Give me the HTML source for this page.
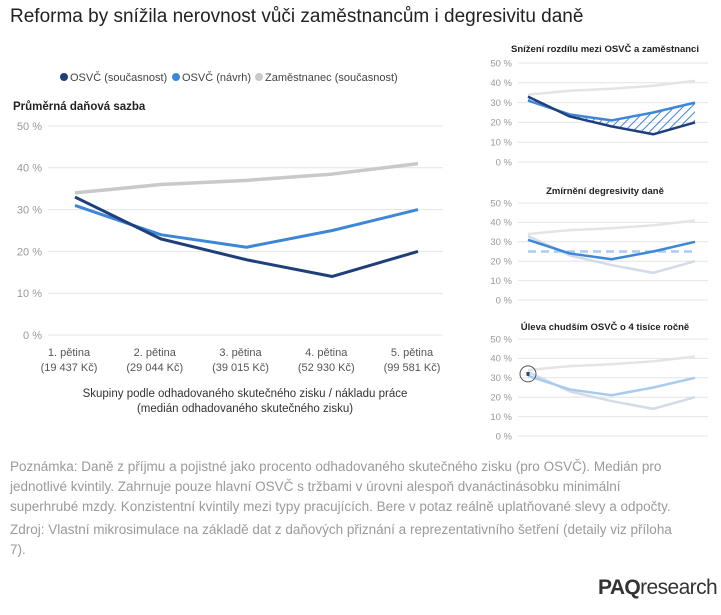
<!DOCTYPE html>
<html><head><meta charset="utf-8">
<style>
body{margin:0;width:721px;height:615px;background:#fff;font-family:"Liberation Sans",sans-serif;overflow:hidden;position:relative}
.t{position:absolute;white-space:nowrap}
</style></head><body>
<div class="t" style="left:10px;top:6px;font-size:19px;color:#222;">Reforma by snížila nerovnost vůči zaměstnancům i degresivitu daně</div>
<svg id="c" width="721" height="615" style="position:absolute;left:0;top:0"></svg>
<div class="t" style="left:10px;top:457px;font-size:13.5px;line-height:20px;color:#9a9a9a;white-space:normal;width:680px">Poznámka: Daně z příjmu a pojistné jako procento odhadovaného skutečného zisku (pro OSVČ). Medián pro jednotlivé kvintily. Zahrnuje pouze hlavní OSVČ s tržbami v úrovni alespoň dvanáctinásobku minimální superhrubé mzdy. Konzistentní kvintily mezi typy pracujících. Bere v potaz reálně uplatňované slevy a odpočty.</div>
<div class="t" style="left:10px;top:520px;font-size:13.5px;line-height:20px;color:#9a9a9a;white-space:normal;width:670px">Zdroj: Vlastní mikrosimulace na základě dat z daňových přiznání a reprezentativního šetření (detaily viz příloha 7).</div>
<div class="t" style="left:598px;top:576px;font-size:21px;color:#333;letter-spacing:-0.6px"><b>PAQ</b>research</div>
<script>
const categories=["1. pětina","2. pětina","3. pětina","4. pětina","5. pětina"];
const medians=["(19 437 Kč)","(29 044 Kč)","(39 015 Kč)","(52 930 Kč)","(99 581 Kč)"];
const osvcNow=[33,23,18,14,20];
const osvcProp=[31,24,21,25,30];
const empNow=[34,36,37,38.5,41];
const ticks=[0,10,20,30,40,50];
const flat=[25,25,25,25,25];
const DARK="#1f3f7a",BLUE="#3d86d8",GRAY="#c9c9c9";
const svg=document.getElementById('c');
const NS="http://www.w3.org/2000/svg";
function mk(tag,attrs,parent){const e=document.createElementNS(NS,tag);for(const k in attrs)e.setAttribute(k,attrs[k]);(parent||svg).appendChild(e);return e;}
function chart(x0,x1,gx0,gx1,yTop,yBot,fs,name){
  const g=mk('g',{});
  
  
  const Y=v=>yBot-(v/50)*(yBot-yTop);
  const X=i=>x0+i*(x1-x0)/(categories.length-1);
  ticks.forEach(t=>{
    const l=mk('line',{x1:gx0,x2:gx1,y1:Y(t),y2:Y(t),stroke:'#e4e4e4','stroke-width':1},g);
    
    
    const tx=mk('text',{x:gx0-6,y:Y(t)+fs*0.35,'text-anchor':'end','font-size':fs,fill:'#999','font-family':'Liberation Sans'},g);
    tx.textContent=t+' %';
    
    
  });
  return {g,X,Y};
}
function line(c,vals,color,w,name,extra){
  const p=mk('polyline',Object.assign({points:vals.map((v,i)=>c.X(i)+','+c.Y(v)).join(' '),fill:'none',stroke:color,'stroke-width':w,'stroke-linejoin':'round'},extra||{}),c.g);
  
  
}
// main
const m=chart(75,418,48,443,126,335,11,'main-chart');
line(m,empNow,GRAY,3.5,'line-employee');
line(m,osvcProp,BLUE,3,'line-osvc-proposal');
line(m,osvcNow,DARK,3,'line-osvc-current');
categories.forEach((c,i)=>{
  [c,medians[i]].forEach((s,j)=>{
    const t=mk('text',{x:m.X(i)-6,y:356+j*15,'text-anchor':'middle','font-size':11,fill:'#555','font-family':'Liberation Sans'});
    t.textContent=s;
    
    
  });
});
[["Skupiny podle odhadovaného skutečného zisku / nákladu práce",397],["(medián odhadovaného skutečného zisku)",412]].forEach(a=>{
  const t=mk('text',{x:245,y:a[1],'text-anchor':'middle','font-size':11.5,fill:'#333','font-family':'Liberation Sans'});
  t.textContent=a[0];
  
  
});
const yt=mk('text',{x:13,y:110,'font-size':11.5,'font-weight':'bold',fill:'#222','font-family':'Liberation Sans'});
yt.textContent='Průměrná daňová sazba';


// legend
[[DARK,'OSVČ (současnost)',70],[BLUE,'OSVČ (návrh)',182],[GRAY,'Zaměstnanec (současnost)',265]].forEach(a=>{
  const c=mk('circle',{cx:a[2]-6,cy:77,r:4,fill:a[0]});
  
  
  const t=mk('text',{x:a[2],y:81,'font-size':11,fill:'#444','font-family':'Liberation Sans'});
  t.textContent=a[1];
  
  
});
// hatch pattern
const defs=mk('defs',{});
const pat=mk('pattern',{id:'h',width:6,height:6,patternUnits:'userSpaceOnUse',patternTransform:'rotate(45)'},defs);
mk('line',{x1:0,y1:0,x2:0,y2:6,stroke:BLUE,'stroke-width':2},pat);
function stitle(txt,y,name){
  const t=mk('text',{x:605,y:y,'text-anchor':'middle','font-size':9.5,'font-weight':'bold',fill:'#222','font-family':'Liberation Sans'});
  t.textContent=txt;
  
  
}
// small 1
stitle('Snížení rozdílu mezi OSVČ a zaměstnanci',52,'small-chart-1-title');
const s1=chart(528,695,518,708,63,162,9.5,'small-chart-1');
const area=mk('polygon',{points:osvcProp.map((v,i)=>s1.X(i)+','+s1.Y(v)).concat(osvcNow.map((v,i)=>s1.X(i)+','+s1.Y(v)).reverse()).join(' '),fill:'url(#h)',stroke:'none'},s1.g);


line(s1,empNow,'#e4e4e4',2.5,'line-employee');
line(s1,osvcProp,BLUE,2.5,'line-osvc-proposal');
line(s1,osvcNow,DARK,2.5,'line-osvc-current');
// small 2
stitle('Zmírnění degresivity daně',194,'small-chart-2-title');
const s2=chart(528,695,518,708,203,300,9.5,'small-chart-2');
line(s2,empNow,'#e4e4e4',2.5,'line-employee');
line(s2,osvcNow,'#d2dbe8',2.5,'line-osvc-current');
line(s2,flat,'#a9cbf0',2.5,'line-flat-reference',{'stroke-dasharray':'8,5'});
line(s2,osvcProp,BLUE,2.5,'line-osvc-proposal');
// small 3
stitle('Úleva chudším OSVČ o 4 tisíce ročně',330,'small-chart-3-title');
const s3=chart(528,695,518,708,339,436,9.5,'small-chart-3');
line(s3,empNow,'#e4e4e4',2.5,'line-employee');
line(s3,osvcNow,'#d2dbe8',2.5,'line-osvc-current');
line(s3,osvcProp,'#a9cbf0',2.5,'line-osvc-proposal');
const seg=mk('line',{x1:s3.X(0),y1:s3.Y(osvcNow[0]),x2:s3.X(0),y2:s3.Y(osvcProp[0]),stroke:DARK,'stroke-width':3},s3.g);


const ci=mk('circle',{cx:s3.X(0),cy:s3.Y(32),r:8,fill:'none',stroke:'#555','stroke-width':1},s3.g);


</script>
</body></html>
